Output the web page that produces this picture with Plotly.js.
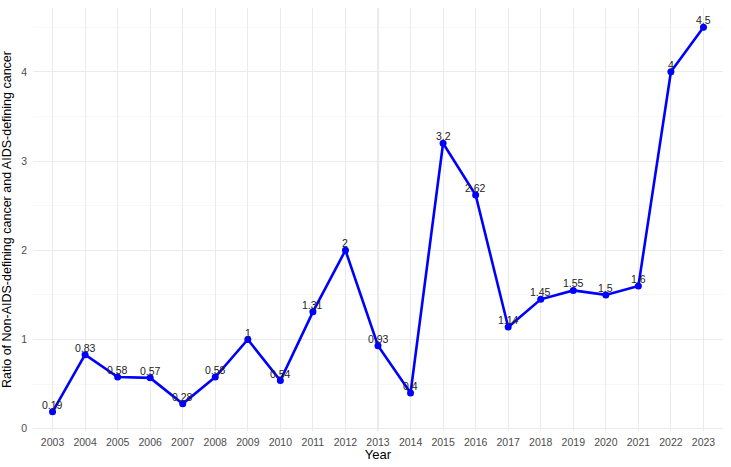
<!DOCTYPE html>
<html>
<head>
<meta charset="utf-8">
<script src="https://cdn.plot.ly/plotly-3.0.1.min.js"></script>
<style>html,body{margin:0;padding:0;background:#fff;}#chart{width:731px;height:467px;}</style>
</head>
<body>
<div id="chart"></div>
<script>
var years = [2003,2004,2005,2006,2007,2008,2009,2010,2011,2012,2013,2014,2015,2016,2017,2018,2019,2020,2021,2022,2023];
var ratios = [0.19,0.83,0.58,0.57,0.28,0.58,1,0.54,1.31,2,0.93,0.4,3.2,2.62,1.14,1.45,1.55,1.5,1.6,4,4.5];
var labels = ratios.map(function(v){return String(v);});

var trace = {
  x: years, y: ratios,
  type: 'scatter', mode: 'lines+markers',
  line: {color: '#0000FF', width: 2.6},
  marker: {color: '#0000FF', size: 7},
  cliponaxis: false,
  hoverinfo: 'x+y'
};

var annotations = years.map(function(yr, i){
  return {
    x: yr, y: ratios[i], text: labels[i], showarrow: false,
    xanchor: 'center', yanchor: 'middle', yshift: 7,
    font: {family: 'Liberation Sans, Arial, sans-serif', size: 10.5, color: '#222222'}
  };
});

var layout = {
  width: 731, height: 467,
  margin: {l: 33, r: 8, t: 8, b: 36},
  paper_bgcolor: '#ffffff', plot_bgcolor: '#ffffff',
  showlegend: false,
  font: {family: 'Liberation Sans, Arial, sans-serif'},
  annotations: annotations,
  xaxis: {
    range: [2002.4, 2023.6],
    tickmode: 'array', tickvals: years, ticktext: years.map(String),
    showgrid: true, gridcolor: '#EBEBEB', gridwidth: 1.1,
    zeroline: false, showline: false, ticks: '',
    ticklabelstandoff: 3,
    tickfont: {size: 10.5, color: '#4D4D4D'},
    title: {text: 'Year', font: {size: 13, color: '#000000'}, standoff: 3}
  },
  yaxis: {
    range: [-0.0255, 4.7155],
    tickmode: 'linear', tick0: 0, dtick: 1,
    showgrid: true, gridcolor: '#EBEBEB', gridwidth: 1.1,
    minor: {dtick: 0.5, tick0: 0, showgrid: true, gridcolor: '#F2F2F2', gridwidth: 0.6},
    zeroline: false, showline: false, ticks: '',
    ticklabelstandoff: 5,
    tickfont: {size: 10.5, color: '#4D4D4D'},
    title: {text: 'Ratio of Non-AIDS-defining cancer and AIDS-defining cancer', font: {size: 12.5, color: '#000000'}, standoff: 6}
  }
};

Plotly.newPlot('chart', [trace], layout, {displayModeBar: false, staticPlot: true});
</script>
</body>
</html>
